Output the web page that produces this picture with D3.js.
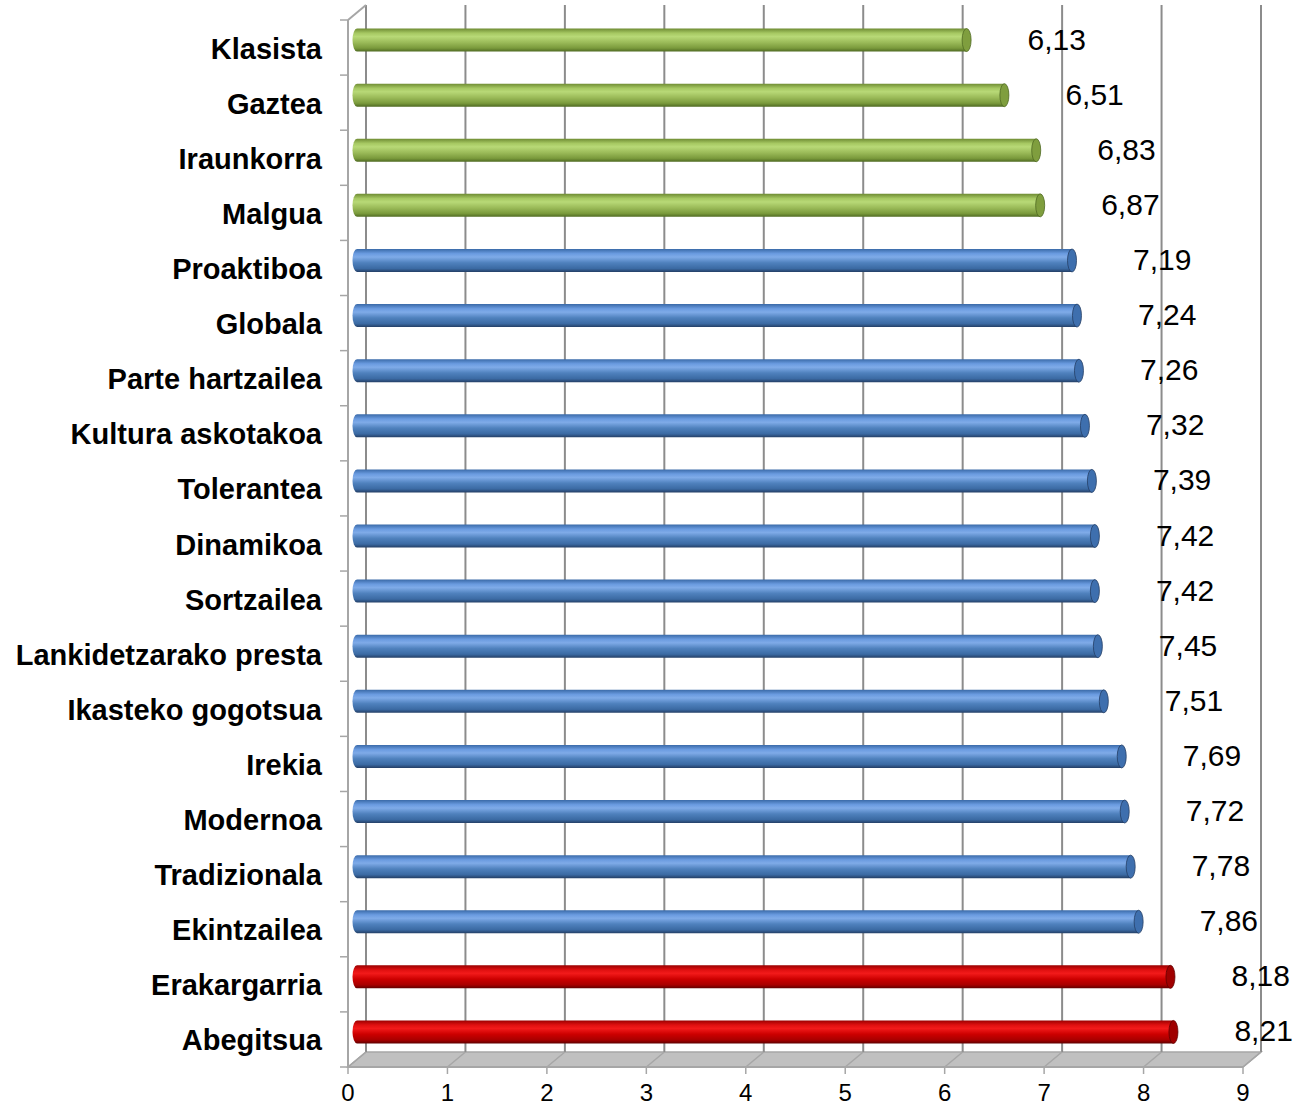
<!DOCTYPE html>
<html><head><meta charset="utf-8">
<script src="https://cdn.jsdelivr.net/npm/d3@7"></script>
<style>body{margin:0;background:#fff;}svg{display:block;}</style>
</head><body>
<script>
const categories = ["Klasista","Gaztea","Iraunkorra","Malgua","Proaktiboa","Globala","Parte hartzailea","Kultura askotakoa","Tolerantea","Dinamikoa","Sortzailea","Lankidetzarako presta","Ikasteko gogotsua","Irekia","Modernoa","Tradizionala","Ekintzailea","Erakargarria","Abegitsua"];
const values = [6.13,6.51,6.83,6.87,7.19,7.24,7.26,7.32,7.39,7.42,7.42,7.45,7.51,7.69,7.72,7.78,7.86,8.18,8.21];
const groups = ["green","green","green","green","blue","blue","blue","blue","blue","blue","blue","blue","blue","blue","blue","blue","blue","red","red"];
const valueLabels = ["6,13","6,51","6,83","6,87","7,19","7,24","7,26","7,32","7,39","7,42","7,42","7,45","7,51","7,69","7,72","7,78","7,86","8,18","8,21"];
const xTicks = [0,1,2,3,4,5,6,7,8,9];

const W = 1301, H = 1108;
const svg = d3.select("body").append("svg").attr("width", W).attr("height", H);
const defs = svg.append("defs");

const DX = 18, DY = -15;
const x = d3.scaleLinear().domain([0, 9]).range([348, 1243]);
const y = d3.scaleBand().domain(categories).range([20, 1067]).paddingInner(0).paddingOuter(0);

const palettes = {
  green: {stops:["#6f8c34","#a6c862","#b8d977","#9bbb59","#7a9a3c","#4f6a22"], cap:"#7f9e3e"},
  blue:  {stops:["#3a6aa8","#6a9be0","#7fabe8","#4f81bd","#3b6aa3","#243f66"], cap:"#3e6fae"},
  red:   {stops:["#9a0000","#e01010","#f21a1a","#cc0000","#a80000","#600000"], cap:"#a00000"}
};
Object.entries(palettes).forEach(([k,p])=>{
  const g = defs.append("linearGradient").attr("id","grad-"+k).attr("x1",0).attr("x2",0).attr("y1",0).attr("y2",1);
  const offs = [0,0.2,0.35,0.6,0.85,1];
  p.stops.forEach((c,i)=>g.append("stop").attr("offset",offs[i]).attr("stop-color",c));
});

const gridColor = "#8c8c8c";
const floor = svg.append("g");
floor.append("path")
  .attr("d", `M${x(0)},1067 L${x(9)},1067 L${x(9)+DX},${1067+DY} L${x(0)+DX},${1067+DY} Z`)
  .attr("fill","#c0c0c0").attr("stroke","#a6a6a6").attr("stroke-width",1.5);
svg.append("g").selectAll("line").data(xTicks).join("line")
  .attr("x1", d=>x(d)+DX).attr("x2", d=>x(d)+DX)
  .attr("y1", 20+DY).attr("y2", 1067+DY)
  .attr("stroke", gridColor).attr("stroke-width", 2);
svg.append("g").selectAll("line").data(xTicks).join("line")
  .attr("x1", d=>x(d)).attr("x2", d=>x(d)+DX)
  .attr("y1", 1067).attr("y2", 1067+DY)
  .attr("stroke", "#a6a6a6").attr("stroke-width", 1.5);
svg.append("line").attr("x1",x(0)).attr("x2",x(0)).attr("y1",20).attr("y2",1067).attr("stroke","#a6a6a6").attr("stroke-width",2);
svg.append("line").attr("x1",x(0)).attr("x2",x(0)+DX).attr("y1",20).attr("y2",20+DY).attr("stroke","#a6a6a6").attr("stroke-width",2);
const bounds = categories.map(c=>y(c)).concat([1067]);
svg.append("g").selectAll("line").data(bounds).join("line")
  .attr("x1", x(0)-8).attr("x2", x(0)).attr("y1", d=>d).attr("y2", d=>d)
  .attr("stroke","#a6a6a6").attr("stroke-width",1.5);
svg.append("line").attr("x1",x(0)).attr("x2",x(9)).attr("y1",1067).attr("y2",1067).attr("stroke","#a6a6a6").attr("stroke-width",2);
svg.append("g").selectAll("line").data(xTicks).join("line")
  .attr("x1", d=>x(d)).attr("x2", d=>x(d)).attr("y1",1067).attr("y2",1074)
  .attr("stroke","#a6a6a6").attr("stroke-width",1.5);
svg.append("g").selectAll("text").data(xTicks).join("text")
  .attr("x", d=>x(d)).attr("y", 1101).attr("text-anchor","middle")
  .attr("font-family","Liberation Sans, Arial, sans-serif").attr("font-size",24).attr("fill","#000")
  .text(d=>d);

const mx = v => x(v) + DX/2;
const ry = 11.5, rx = 4.5;
const bars = svg.append("g");
categories.forEach((c,i)=>{
  const cy = y(c) + y.bandwidth()/2 + DY/2;
  const x0 = mx(0), x1 = mx(values[i]);
  const p = palettes[groups[i]];
  const g = bars.append("g");
  g.append("path")
    .attr("d", `M${x0},${cy-ry} L${x1},${cy-ry} L${x1},${cy+ry} L${x0},${cy+ry} A${rx},${ry} 0 0 1 ${x0},${cy-ry} Z`)
    .attr("fill", `url(#grad-${groups[i]})`);
  g.append("ellipse").attr("cx", x1).attr("cy", cy).attr("rx", rx).attr("ry", ry)
    .attr("fill", p.cap).attr("stroke", p.stops[5]).attr("stroke-width",0.8);
});

svg.append("g").selectAll("text").data(categories).join("text")
  .attr("x", 322).attr("y", d=>y(d)+y.bandwidth()/2+1)
  .attr("text-anchor","end").attr("dominant-baseline","central")
  .attr("font-family","Liberation Sans, Arial, sans-serif").attr("font-weight","bold").attr("font-size",29).attr("fill","#000")
  .text(d=>d);

svg.append("g").selectAll("text").data(values).join("text")
  .attr("x", d=>x(d)+DX+52)
  .attr("y", (d,i)=>y(categories[i]) + y.bandwidth()/2 + DY/2 - 1)
  .attr("text-anchor","start").attr("dominant-baseline","central")
  .attr("font-family","Liberation Sans, Arial, sans-serif").attr("font-size",30).attr("fill","#000")
  .text((d,i)=>valueLabels[i]);
</script>
</body></html>
